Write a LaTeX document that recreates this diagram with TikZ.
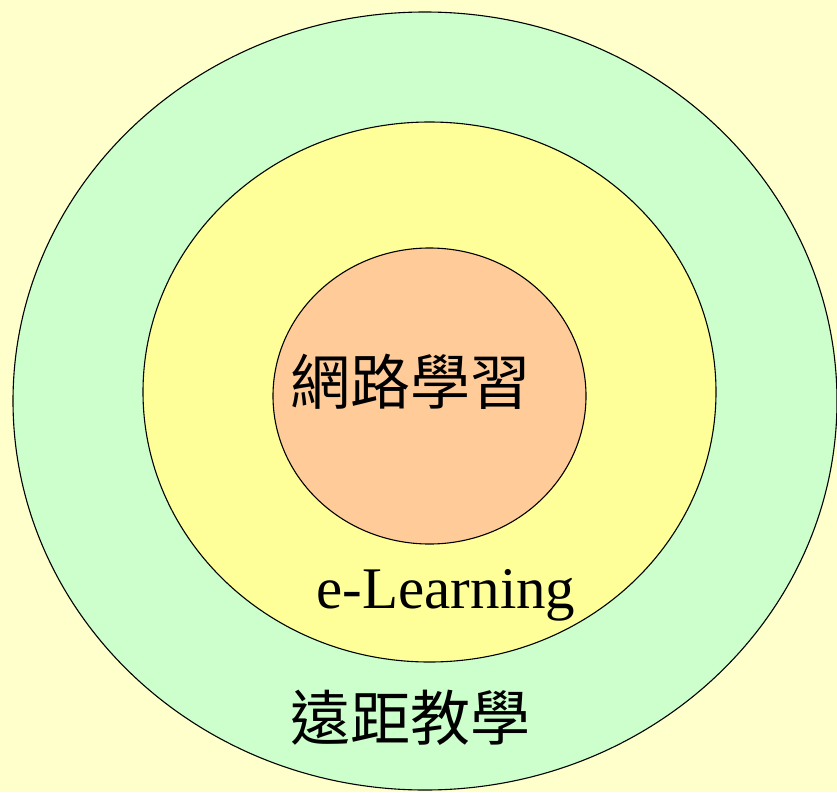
\documentclass[tikz,border=0pt]{standalone}
\usepackage{fontspec}
\setmainfont{Liberation Serif}
\newfontfamily\cjk{Noto Sans CJK TC}
\definecolor{bgc}{HTML}{FFFFCC}
\definecolor{outc}{HTML}{CCFFCC}
\definecolor{midc}{HTML}{FFFF99}
\definecolor{innc}{HTML}{FFCC99}
\begin{document}
\begin{tikzpicture}[x=1pt,y=-1pt,
  ring/.style={draw=black,line width=1.1pt},
  lbl/.style={inner sep=0pt,font=\fontsize{60}{62}\selectfont}]
\useasboundingbox (0,0) rectangle (837,792);
\clip (0,0) rectangle (837,792);
\fill[bgc] (0,0) rectangle (837,792);
\draw[ring,fill=outc] (425,401) ellipse [x radius=412,y radius=389];
\draw[ring,fill=midc] (429.5,392) ellipse [x radius=286.5,y radius=270];
\draw[ring,fill=innc] (429.5,396) ellipse [x radius=156.5,y radius=148];
\node[lbl] (inner) at (410,382) {\cjk 網路學習};
\node[lbl,anchor=base,font=\fontsize{59}{60}\selectfont] (mid) at (446,608) {e-Learning};
\node[lbl] (outer) at (410,718) {\cjk 遠距教學};
\end{tikzpicture}
\end{document}
